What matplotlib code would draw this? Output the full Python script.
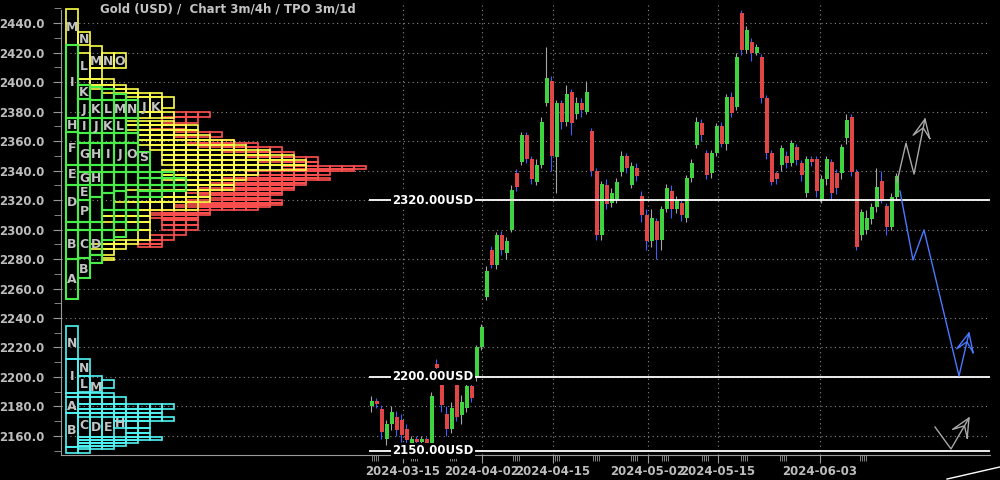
import numpy as np
import matplotlib
matplotlib.use("Agg")
import matplotlib.pyplot as plt
from matplotlib.patches import Rectangle
from matplotlib.ticker import MultipleLocator, FormatStrFormatter

plt.rcParams['font.family'] = 'DejaVu Sans'
plt.rcParams['font.weight'] = 'bold'

# ---------------- price candles (4h) ----------------
opens = [2180, 2184, 2178, 2158, 2168, 2173, 2171, 2165, 2155, 2158,
         2156, 2158, 2155, 2209, 2196, 2175, 2165, 2196, 2174, 2179,
         2194, 2200, 2220, 2254, 2286, 2276, 2296, 2284, 2300, 2338,
         2346, 2364, 2348, 2332, 2344, 2386, 2401, 2349, 2386, 2373,
         2393, 2378, 2386, 2380, 2367, 2340, 2296, 2330, 2318, 2320,
         2339, 2350, 2330, 2342, 2323, 2310, 2292, 2306, 2293, 2314,
         2326, 2314, 2318, 2308, 2335, 2357, 2372, 2352, 2338, 2352,
         2370, 2358, 2390, 2383, 2447, 2422, 2427, 2420, 2417, 2389,
         2352, 2338, 2344, 2350, 2345, 2356, 2345, 2325, 2348, 2348,
         2321, 2334, 2346, 2338, 2338, 2362, 2376, 2339, 2296, 2300,
         2307, 2315, 2333, 2316, 2302, 2322]
closes = [2184, 2182, 2163, 2168, 2176, 2164, 2161, 2157, 2158, 2156,
          2158, 2155, 2187, 2206, 2181, 2165, 2179, 2173, 2183, 2194,
          2186, 2220, 2234, 2272, 2276, 2296, 2286, 2292, 2327, 2329,
          2364, 2348, 2334, 2344, 2373, 2403, 2350, 2386, 2373, 2392,
          2372, 2386, 2381, 2393, 2340, 2296, 2331, 2317, 2325, 2332,
          2350, 2342, 2343, 2336, 2310, 2292, 2308, 2293, 2314, 2328,
          2314, 2320, 2310, 2335, 2345, 2373, 2364, 2337, 2352, 2370,
          2358, 2390, 2379, 2417, 2422, 2435, 2420, 2424, 2389, 2352,
          2332, 2334, 2355, 2345, 2359, 2347, 2337, 2348, 2346, 2326,
          2334, 2348, 2325, 2328, 2356, 2374, 2339, 2288, 2312, 2308,
          2315, 2329, 2321, 2302, 2322, 2336]
highs = [2187, 2186, 2181, 2171, 2180, 2177, 2175, 2168, 2160, 2160,
         2160, 2159, 2190, 2212, 2198, 2180, 2183, 2199, 2188, 2196,
         2197, 2222, 2236, 2275, 2289, 2298, 2299, 2295, 2330, 2341,
         2366, 2366, 2350, 2348, 2376, 2424, 2404, 2388, 2388, 2398,
         2395, 2390, 2389, 2401, 2369, 2342, 2333, 2334, 2328, 2335,
         2353, 2352, 2346, 2345, 2326, 2314, 2314, 2308, 2316, 2331,
         2330, 2323, 2320, 2337, 2348, 2376, 2375, 2354, 2354, 2372,
         2373, 2392, 2393, 2420, 2449, 2438, 2430, 2426, 2419, 2391,
         2354, 2340, 2357, 2353, 2361, 2358, 2347, 2350, 2350, 2350,
         2337, 2350, 2348, 2341, 2358, 2378, 2378, 2341, 2314, 2313,
         2318, 2342, 2340, 2318, 2325, 2338]
lows = [2176, 2179, 2158, 2154, 2164, 2160, 2156, 2154, 2153, 2154,
        2154, 2153, 2154, 2204, 2176, 2160, 2162, 2170, 2168, 2176,
        2183, 2197, 2218, 2252, 2274, 2273, 2283, 2280, 2298, 2326,
        2344, 2345, 2331, 2330, 2342, 2384, 2340, 2325, 2368, 2370,
        2364, 2375, 2376, 2378, 2336, 2293, 2293, 2314, 2315, 2318,
        2336, 2338, 2328, 2333, 2305, 2286, 2288, 2280, 2286, 2312,
        2308, 2311, 2306, 2305, 2332, 2355, 2360, 2334, 2335, 2350,
        2356, 2354, 2376, 2381, 2418, 2420, 2414, 2418, 2386, 2348,
        2330, 2331, 2340, 2342, 2343, 2344, 2333, 2322, 2343, 2322,
        2318, 2330, 2320, 2324, 2334, 2358, 2336, 2286, 2293, 2297,
        2304, 2312, 2318, 2296, 2300, 2320]

date_pos = [6.2, 22.0, 36.2, 55.2, 69.2, 89.6]
date_labels = ['2024-03-15', '2024-04-02', '2024-04-15',
               '2024-05-02', '2024-05-15', '2024-06-03']
day_marks = [0, 7.8, 15.6, 28.2, 36.2, 44.2, 51.8, 58, 66, 73.8, 81.6, 97.6]

level_prices = [2320, 2200, 2150]

# projection paths (bar, price)
proj_up_x = [105.0, 106.8, 108.4, 110.6]
proj_up_y = [2332.2, 2358.6, 2337.6, 2374.9]
proj_dn_x = [105.6, 108.2, 110.4, 117.4, 119.4]
proj_dn_y = [2326.1, 2279.3, 2299.7, 2200.7, 2229.8]
proj_lo_x = [112.6, 115.8, 119.4]
proj_lo_y = [2166.1, 2151.2, 2172.2]
trend_x = [115.0, 125.6]
trend_y = [2130.8, 2139.0]

# ---------------- TPO profile (column, price) ----------------
green_cols = [
    [2253, 2280, 2300, 2305, 2330, 2343.7, 2366, 2375.5, 2425],
    [2267, 2281, 2300, 2305, 2320, 2330, 2339, 2343.7, 2358.6, 2365.4, 2375.5, 2388.5, 2398],
    [2277.5, 2283, 2300, 2305, 2322, 2330, 2339, 2343.7, 2358.4, 2365.4, 2375.4, 2388, 2396.6],
    [2293, 2300, 2313, 2325, 2330, 2339, 2343.7, 2358.4, 2365.4, 2375.4, 2388, 2395],
    [2295, 2305, 2313, 2326, 2330, 2339, 2343.7, 2358.4, 2365.4, 2375.4, 2388, 2392],
    [2300, 2313, 2322, 2330, 2339, 2343.7, 2358.4, 2365.4, 2375.4, 2388],
    [2322, 2326, 2330, 2335, 2339, 2343.7, 2352.5],
    [2322, 2326, 2330, 2335, 2339],
    [2326, 2330, 2335, 2339],
    [2326, 2330, 2335],
]
yellow_rows = [
    (2425.1, 2449.5, 0, 1), (2425.1, 2434.0, 1, 2), (2402.0, 2419.5, 1, 2),
    (2409.5, 2424.4, 2, 3), (2409.5, 2419.5, 3, 5), (2402.0, 2409.5, 2, 3),
    (2398.0, 2402.0, 1, 4), (2395.0, 2398.0, 2, 5), (2392.5, 2395.0, 3, 6),
    (2390.0, 2392.5, 5, 8), (2379.5, 2390.0, 6, 8), (2382.4, 2390.0, 8, 9),
    (2375.6, 2379.5, 6, 9), (2371.0, 2373.6, 5, 9), (2367.5, 2371.0, 5, 11),
    (2364.0, 2367.5, 6, 11), (2360.7, 2364.0, 6, 12), (2357.0, 2360.7, 6, 14),
    (2354.0, 2357.0, 7, 15), (2350.5, 2354.0, 8, 17), (2347.0, 2350.5, 8, 19),
    (2343.7, 2347.0, 8, 20), (2340.3, 2343.7, 9, 20), (2337.0, 2340.3, 8, 16),
    (2333.6, 2337.0, 8, 15), (2330.0, 2333.6, 9, 14), (2326.8, 2330.0, 9, 14),
    (2322.0, 2326.8, 5, 12), (2318.6, 2322.0, 5, 12), (2313.0, 2318.6, 4, 11),
    (2309.0, 2313.0, 3, 7), (2305.0, 2309.0, 3, 7), (2300.0, 2305.0, 4, 7),
    (2293.0, 2300.0, 6, 7), (2290.0, 2293.0, 3, 6), (2286.5, 2290.0, 2, 5),
    (2283.0, 2286.5, 3, 4), (2277.5, 2283.0, 2, 3), (2279.0, 2280.5, 3, 4),
]
red_rows = [
    (2376.3, 2380.0, 9, 12), (2372.2, 2376.3, 8, 11), (2368.0, 2371.0, 7, 10),
    (2363.0, 2366.0, 9, 13), (2359.0, 2361.0, 10, 14), (2356.0, 2359.0, 11, 16),
    (2352.5, 2356.0, 13, 18), (2349.0, 2352.5, 15, 19), (2345.8, 2349.0, 16, 21),
    (2343.0, 2345.8, 18, 21), (2341.0, 2343.0, 18, 25), (2339.7, 2341.0, 19, 24),
    (2337.0, 2339.7, 15, 22), (2335.2, 2337.0, 13, 21), (2333.6, 2335.2, 14, 22),
    (2331.8, 2333.6, 12, 20), (2330.0, 2331.8, 13, 20), (2328.4, 2330.0, 11, 19),
    (2326.8, 2328.4, 13, 19), (2325.0, 2326.8, 10, 18), (2323.4, 2325.0, 11, 18),
    (2321.7, 2323.4, 12, 17), (2320.0, 2321.7, 13, 17), (2318.3, 2320.0, 10, 18),
    (2316.6, 2318.3, 11, 18), (2315.0, 2316.6, 9, 17), (2313.2, 2315.0, 11, 16),
    (2311.5, 2313.2, 7, 12), (2309.8, 2311.5, 8, 12), (2308.1, 2309.8, 7, 11),
    (2306.4, 2308.1, 8, 11), (2303.0, 2306.4, 8, 11), (2300.0, 2303.0, 8, 11),
    (2296.6, 2300.0, 9, 10), (2293.0, 2296.6, 7, 9), (2290.5, 2293.0, 6, 8),
    (2288.0, 2290.5, 6, 8),
]
cyan_rows = [
    (2212.2, 2234.6, 0, 1), (2189.2, 2212.2, 0, 1), (2200.7, 2212.2, 1, 2),
    (2190.0, 2200.7, 1, 3), (2192.5, 2198.0, 3, 4), (2186.4, 2189.2, 0, 4),
    (2181.6, 2186.4, 1, 5), (2175.6, 2186.4, 0, 1), (2178.3, 2181.6, 1, 9),
    (2175.6, 2178.3, 1, 8), (2173.0, 2175.6, 1, 8), (2170.0, 2173.0, 4, 9),
    (2165.5, 2170.0, 4, 7), (2162.0, 2165.5, 5, 7), (2159.3, 2162.0, 5, 7),
    (2157.5, 2159.3, 1, 8), (2155.3, 2157.5, 1, 6), (2153.5, 2155.3, 1, 5),
    (2151.5, 2153.5, 1, 4), (2148.5, 2152.5, 0, 2), (2152.5, 2175.6, 0, 1),
    (2159.3, 2175.6, 1, 4),
]
tpo_letters = [
    (0, 2437, 'M'), (0, 2400, 'I'), (0, 2370.5, 'H'), (0, 2355, 'F'), (0, 2337, 'E'),
    (0, 2318, 'D'), (0, 2290, 'B'), (0, 2266, 'A'),
    (1, 2429, 'N'), (1, 2410.5, 'L'), (1, 2393, 'K'), (1, 2381.5, 'J'), (1, 2370, 'I'),
    (1, 2351, 'G'), (1, 2334.5, 'G'), (1, 2325, 'E'), (1, 2312.5, 'P'), (1, 2290, 'C'),
    (1, 2273, 'B'),
    (2, 2414, 'M'), (2, 2381.5, 'K'), (2, 2370, 'J'), (2, 2351, 'H'), (2, 2334.5, 'H'),
    (2, 2290, 'D'),
    (3, 2414, 'N'), (3, 2381.5, 'L'), (3, 2370, 'K'), (3, 2351, 'I'),
    (4, 2414, 'O'), (4, 2381.5, 'M'), (4, 2370, 'L'), (4, 2351, 'J'),
    (5, 2381.5, 'N'), (5, 2351, 'O'), (6, 2383, 'J'), (6, 2348.5, 'S'), (7, 2383, 'K'),
    (0, 2223, 'N'), (0, 2200, 'I'), (0, 2180, 'A'), (0, 2163.5, 'B'),
    (1, 2206, 'N'), (1, 2195, 'L'), (1, 2167, 'C'), (2, 2193, 'M'), (2, 2166, 'D'),
    (3, 2166, 'E'), (4, 2168.5, 'H'),
]

# ---------------- figure ----------------
GRID = '#8a8a8a'
TXT = '#bdbdbd'
AXC = '#9a9a9a'
YMIN, YMAX = 2147.1, 2453.6

fig = plt.figure(figsize=(10, 4.8), dpi=100, facecolor='black')
pos = [0.061, 25 / 480, 0.929, 452 / 480]
ax = fig.add_axes(pos, facecolor='black')
ax.set_xlim(-62.2, 123.6)
ax.set_ylim(YMIN, YMAX)

ax.yaxis.set_major_locator(MultipleLocator(20))
ax.yaxis.set_minor_locator(MultipleLocator(10))
ax.yaxis.set_major_formatter(FormatStrFormatter('%.1f'))
ax.set_xticks(date_pos, date_labels)
ax.set_xticks([d + k * 0.4 for d in day_marks for k in range(4)], minor=True)
ax.tick_params(axis='y', which='major', colors=AXC, labelcolor=TXT, labelsize=8.5, length=6, pad=6)
ax.tick_params(axis='y', which='minor', colors=AXC, length=5)
ax.tick_params(axis='x', which='major', colors=AXC, labelcolor=TXT, labelsize=8.5, length=6, pad=1.5)
ax.tick_params(axis='x', which='minor', colors=AXC, length=4)
for s in ['top', 'right']:
    ax.spines[s].set_visible(False)
ax.spines['left'].set_color(AXC)
ax.spines['bottom'].set_color(AXC)
ax.spines['left'].set_bounds(YMIN, 2449)
ax.grid(True, which='major', color=GRID, linestyle=(0, (1, 3)), linewidth=0.8)
ax.set_axisbelow(True)

# candles
x = np.arange(len(opens))
o = np.array(opens, float)
c = np.array(closes, float)
up = c >= o
body_col = np.where(up, '#3fd43f', '#e04646')
wick_col = np.where(up, '#a6a6a6', '#3f5fff')
ax.vlines(x - 0.25, lows, highs, colors=wick_col, lw=0.8, zorder=2)
ax.bar(x, np.maximum(np.abs(c - o), 0.8), bottom=np.minimum(o, c), width=0.7,
       color=body_col, zorder=3, linewidth=0)

# horizontal levels
for p in level_prices:
    ax.hlines(p, -0.6, 123.6, color='white', lw=1.3, zorder=4)
    ax.text(12.2, p, f'{p:.2f}USD', color='white', fontsize=8.5, ha='center', va='center',
            bbox=dict(facecolor='black', edgecolor='none', pad=1.0), zorder=5)


def arrow_path(xs, ys, color):
    ax.plot(xs, ys, color=color, lw=1.0, zorder=5)
    # open arrow head built in screen space from the last segment
    t = ax.transData
    tip = t.transform((xs[-1], ys[-1]))
    prev = t.transform((xs[-2], ys[-2]))
    d = (prev - tip) / np.hypot(*(prev - tip))
    pts = []
    for ang, ln in [(25, 20), (0, 0), (-25, 20), (0, 9), (25, 20)]:
        a = np.radians(ang)
        r = np.array([d[0] * np.cos(a) - d[1] * np.sin(a), d[0] * np.sin(a) + d[1] * np.cos(a)])
        pts.append(tip + r * ln)
    pts = t.inverted().transform(np.array(pts))
    ax.plot(pts[:, 0], pts[:, 1], color=color, lw=1.0, zorder=5)


arrow_path(proj_up_x, proj_up_y, '#a8a8a8')
arrow_path(proj_dn_x, proj_dn_y, '#4a78ff')
arrow_path(proj_lo_x, proj_lo_y, '#a8a8a8')
ax.plot(trend_x, trend_y, color='white', lw=1.0, clip_on=False)

# TPO overlay, one unit per profile column
ax_t = fig.add_axes(pos, facecolor='none', label='tpo')
ax_t.set_xlim(-5 / 12, 924 / 12)
ax_t.set_ylim(YMIN, YMAX)
ax_t.axis('off')


def draw_rows(rows, color, z, lw):
    for lo, hi, c0, c1 in rows:
        for col in range(c0, c1):
            ax_t.add_patch(Rectangle((col, lo), 1, hi - lo, fill=False, edgecolor=color,
                                     lw=lw, zorder=z))


draw_rows(red_rows, '#ff5050', 1, 1.2)
draw_rows(yellow_rows, '#ffff48', 2, 1.2)
draw_rows(cyan_rows, '#50f4f4', 2, 1.2)
for col, edges in enumerate(green_cols):
    for lo, hi in zip(edges[:-1], edges[1:]):
        ax_t.add_patch(Rectangle((col, lo), 1, hi - lo, fill=False, edgecolor='#48ee48',
                                 lw=1.5, zorder=3))
for col, p, letter in tpo_letters:
    ax_t.text(col + 0.5, p, letter, ha='center', va='center', fontsize=9,
              color='#c4c4c4', zorder=4)

fig.text(0.1, 1 - 9 / 480, 'Gold (USD) /  Chart 3m/4h / TPO 3m/1d', color='#c4c4c4',
         fontsize=8.5, ha='left', va='center')

fig.savefig('out.png', dpi=100, facecolor='black')
